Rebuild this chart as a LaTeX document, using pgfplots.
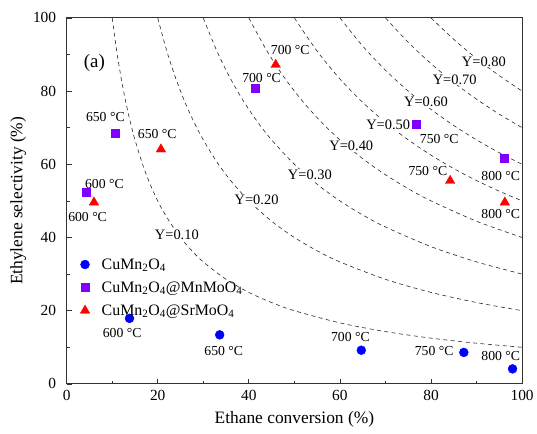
\documentclass[border=0pt]{standalone}
\usepackage{pgfplots}
\pgfplotsset{compat=1.18}
\usepackage{fontspec}
\setmainfont{Liberation Serif}
\definecolor{cublue}{RGB}{0,0,255}
\definecolor{mnpurple}{RGB}{128,0,255}
\definecolor{srred}{RGB}{255,0,0}
\newcommand{\lab}{\fontsize{13.8}{15}\selectfont}
\pgfplotsset{isoY/.style={black!85, line width=0.6pt, dash pattern=on 4pt off 3.5pt, smooth, forget plot}}
\tikzset{ylab/.style={fill=white, inner sep=1pt, font=\fontsize{14.5}{16}\selectfont}}
\begin{document}
\begin{tikzpicture}
\begin{axis}[
    scale only axis,
    width=458pt, height=368pt,
    xmin=0, xmax=100, ymin=0, ymax=100,
    xtick={0,20,...,100}, ytick={0,20,...,100},
    minor x tick num=1, minor y tick num=1,
    tick align=inside, xtick pos=bottom, ytick pos=left,
    major tick length=5pt, minor tick length=3pt,
    tick style={black!80, line width=0.7pt},
    /pgf/number format/assume math mode=true,
    tick label style={font=\fontsize{15.5}{17}\selectfont},
    xticklabel style={yshift=-3pt},
    yticklabel style={xshift=-7pt},
    xlabel={Ethane conversion (\%)},
    ylabel={Ethylene selectivity (\%)},
    label style={font=\fontsize{17.5}{19}\selectfont},
    xlabel style={yshift=-4pt},
    axis line style={black!80, line width=0.9pt},
    legend style={at={(axis cs:2.3,35.4)}, anchor=north west, draw=none, fill=none,
        font=\fontsize{16}{18}\selectfont, row sep=7pt,
        /tikz/every odd column/.append style={column sep=10pt}},
    legend cell align=left,
]
% iso-yield curves Y = conversion x selectivity
\addplot[isoY] coordinates {(10,100) (11,90.91) (12,83.33) (13,76.92) (14,71.43) (15,66.67) (17,58.82) (19,52.63) (21,47.62) (24,41.67) (27,37.04) (30,33.33) (35,28.57) (40,25) (45,22.22) (50,20) (60,16.67) (70,14.29) (80,12.5) (90,11.11) (100,10)};
\addplot[isoY] coordinates {(20,100) (22,90.91) (24,83.33) (26,76.92) (28,71.43) (30,66.67) (33,60.61) (36,55.56) (40,50) (45,44.44) (50,40) (55,36.36) (60,33.33) (70,28.57) (80,25) (90,22.22) (100,20)};
\addplot[isoY] coordinates {(30,100) (33,90.91) (36,83.33) (39,76.92) (42,71.43) (45,66.67) (50,60) (55,54.55) (60,50) (65,46.15) (70,42.86) (80,37.5) (90,33.33) (100,30)};
\addplot[isoY] coordinates {(40,100) (44,90.91) (48,83.33) (52,76.92) (56,71.43) (60,66.67) (65,61.54) (70,57.14) (75,53.33) (80,50) (90,44.44) (100,40)};
\addplot[isoY] coordinates {(50,100) (55,90.91) (60,83.33) (65,76.92) (70,71.43) (75,66.67) (80,62.5) (85,58.82) (90,55.56) (95,52.63) (100,50)};
\addplot[isoY] coordinates {(60,100) (65,92.31) (70,85.71) (75,80) (80,75) (85,70.59) (90,66.67) (95,63.16) (100,60)};
\addplot[isoY] coordinates {(70,100) (75,93.33) (80,87.5) (85,82.35) (90,77.78) (95,73.68) (100,70)};
\addplot[isoY] coordinates {(80,100) (85,94.12) (90,88.89) (95,84.21) (100,80)};

\node[ylab] at (axis cs:24.2,40.8) {Y=0.10};
\node[ylab] at (axis cs:41.7,50.3) {Y=0.20};
\node[ylab] at (axis cs:53.4,57.1) {Y=0.30};
\node[ylab] at (axis cs:62.5,65.0) {Y=0.40};
\node[ylab] at (axis cs:70.6,70.7) {Y=0.50};
\node[ylab] at (axis cs:78.9,77.0) {Y=0.60};
\node[ylab] at (axis cs:85.2,83.2) {Y=0.70};
\node[ylab] at (axis cs:91.6,88.1) {Y=0.80};

\addplot[only marks, mark=*, mark size=4.5pt, color=cublue]
    coordinates {(13.8,17.9) (33.6,13.4) (64.7,9.2) (87.2,8.6) (97.9,4.1)};
\addlegendentry{CuMn\textsubscript{2}O\textsubscript{4}}
\addplot[only marks, mark=square*, mark size=4pt, color=mnpurple]
    coordinates {(4.4,52.4) (10.6,68.4) (41.3,80.9) (76.7,70.9) (96.0,61.6)};
\addlegendentry{CuMn\textsubscript{2}O\textsubscript{4}@MnMoO\textsubscript{4}}
\addplot[only marks, mark=triangle*, mark size=5.5pt, color=srred]
    coordinates {(6.0,49.6) (20.7,64.1) (45.9,87.2) (84.2,55.5) (96.2,49.6)};
\addlegendentry{CuMn\textsubscript{2}O\textsubscript{4}@SrMoO\textsubscript{4}}

% temperature labels
\node[font=\lab] at (axis cs:12.2,13.9) {600 °C};
\node[font=\lab] at (axis cs:34.5,8.9) {650 °C};
\node[font=\lab] at (axis cs:62.3,12.8) {700 °C};
\node[font=\lab] at (axis cs:80.7,8.9) {750 °C};
\node[font=\lab] at (axis cs:95.3,7.7) {800 °C};

\node[font=\lab] at (axis cs:8.3,54.6) {600 °C};
\node[font=\lab] at (axis cs:8.5,73.0) {650 °C};
\node[font=\lab] at (axis cs:42.8,83.7) {700 °C};
\node[font=\lab] at (axis cs:81.8,66.8) {750 °C};
\node[font=\lab] at (axis cs:95.3,56.9) {800 °C};

\node[font=\lab] at (axis cs:4.6,45.7) {600 °C};
\node[font=\lab] at (axis cs:19.9,68.2) {650 °C};
\node[font=\lab] at (axis cs:49.1,91.3) {700 °C};
\node[font=\lab] at (axis cs:79.3,58.2) {750 °C};
\node[font=\lab] at (axis cs:95.3,46.5) {800 °C};

\node[font=\fontsize{19}{21}\selectfont] at (axis cs:6.1,87.8) {(a)};
\end{axis}
\path ([xshift=-67pt,yshift=-50pt]current axis.south west) rectangle ([xshift=12pt,yshift=18pt]current axis.north east);
\end{tikzpicture}
\end{document}
